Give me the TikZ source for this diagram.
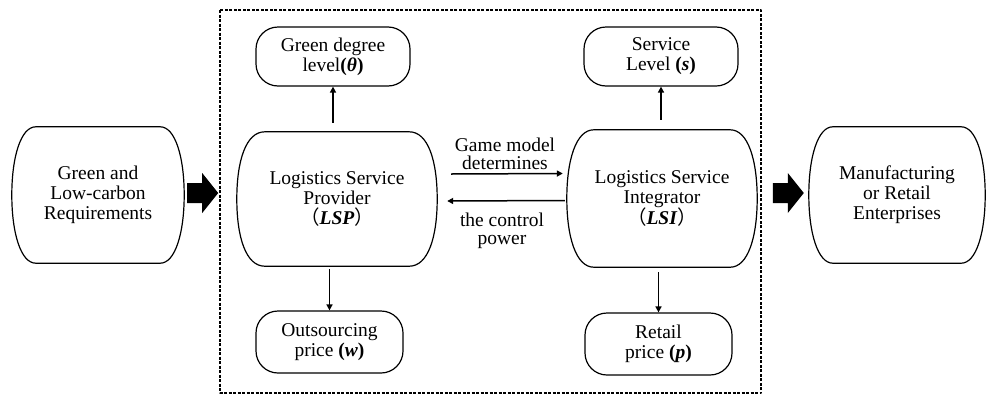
\documentclass[tikz,border=0pt]{standalone}
\usepackage{fontspec}
\setmainfont{Liberation Serif}
\newfontfamily\cjk{Noto Sans CJK SC}
\usetikzlibrary{arrows.meta,positioning}

\begin{document}
\begin{tikzpicture}[x=1pt, y=-1pt, line join=round,
    txt/.style={font=\fontsize{19.5}{20}\selectfont, align=center},
    sidebox/.style={txt, inner sep=0pt},
    pill/.style={txt, draw, line width=1.2pt, rounded corners=22pt, inner sep=0pt},
    midtxt/.style={font=\fontsize{19.5}{18}\selectfont, align=center, inner sep=0pt},
    thinarrow/.style={line width=1.5pt, -{Triangle[length=6pt,width=6pt]}},
    fatarrow/.pic={
        \fill (0pt,10pt) -- (15pt,10pt) -- (15pt,20pt) -- (31pt,0pt)
            -- (15pt,-20pt) -- (15pt,-10pt) -- (0pt,-10pt) -- cycle;
    }
]

    \useasboundingbox (0,0) rectangle (987,394);

    % --- Dashed frame round the two players ---
    \draw[line width=1.2pt, dash pattern=on 3pt off 1.5pt] (220,10) rectangle (761,393);

    % --- Big boxes (text only, outline drawn below) ---
    \node[sidebox, minimum width=172, minimum height=136] (req) at (98,195)
        {Green and\\Low-carbon\\Requirements};
    \node[sidebox, minimum width=200, minimum height=134] (lsp) at (337,199)
        {Logistics Service\\Provider\\{\cjk （}\textbf{\textit{LSP}}{\cjk ）}};
    \node[sidebox, minimum width=190, minimum height=137] (lsi) at (662,198.5)
        {Logistics Service\\Integrator\\{\cjk （}\textbf{\textit{LSI}}{\cjk ）}};
    \node[sidebox, minimum width=176, minimum height=136] (ent) at (897,195)
        {Manufacturing\\or Retail\\Enterprises};

    % curved sides
    \foreach \n/\a in {req/24, lsp/28, lsi/27, ent/24} {
        \draw[line width=1.2pt] ([xshift=\a pt]\n.north west) -- ([xshift=-\a pt]\n.north east)
            .. controls ([xshift=-9pt]\n.north east) and ([yshift=38pt]\n.east) .. (\n.east)
            .. controls ([yshift=-38pt]\n.east) and ([xshift=-9pt]\n.south east) .. ([xshift=-\a pt]\n.south east)
            -- ([xshift=\a pt]\n.south west)
            .. controls ([xshift=9pt]\n.south west) and ([yshift=-38pt]\n.west) .. (\n.west)
            .. controls ([yshift=38pt]\n.west) and ([xshift=9pt]\n.north west) .. cycle;
    }

    % --- Decision variables ---
    \node[pill, minimum width=154, minimum height=59] (green) at (333,56.5)
        {Green degree\\level\textbf{(\textit{θ})}};
    \node[pill, minimum width=154, minimum height=59] (slevel) at (661,56.5)
        {Service\\Level \textbf{(\textit{s})}};
    \node[pill, minimum width=147, minimum height=62] (outs) at (329.5,342)
        {Outsourcing\\price \textbf{(\textit{w})}};
    \node[pill, minimum width=147, minimum height=62] (retail) at (658.5,344)
        {Retail\\price \textbf{(\textit{p})}};

    % --- Fat arrows ---
    \pic at ([shift={(3pt,2pt)}]req.east) {fatarrow};
    \pic at ([shift={(-36pt,2pt)}]ent.west) {fatarrow};

    % --- Thin arrows ---
    \draw[thinarrow] (green.south |- lsp.north) ++(0,9pt) -- (green.south);
    \draw[thinarrow] (outs.north |- lsp.south) ++(0,-3pt) -- (outs.north);
    \draw[thinarrow] (slevel.south |- lsi.north) ++(0,10pt) -- (slevel.south);
    \draw[thinarrow] (retail.north |- lsi.south) ++(0,-5pt) -- (retail.north);

    \draw[thinarrow] ([shift={(14pt,25pt)}]lsp.east) -- ([shift={(-4pt,25pt)}]lsi.west);
    \draw[thinarrow] ([shift={(-2pt,-2pt)}]lsi.west) -- ([shift={(10pt,-2pt)}]lsp.east);

    % --- Labels ---
    \node[midtxt] (gmtext) at (505,154) {Game model\\determines};
    \node[midtxt] (cptext) at (502,231) {the control\\power};

\end{tikzpicture}
\end{document}
